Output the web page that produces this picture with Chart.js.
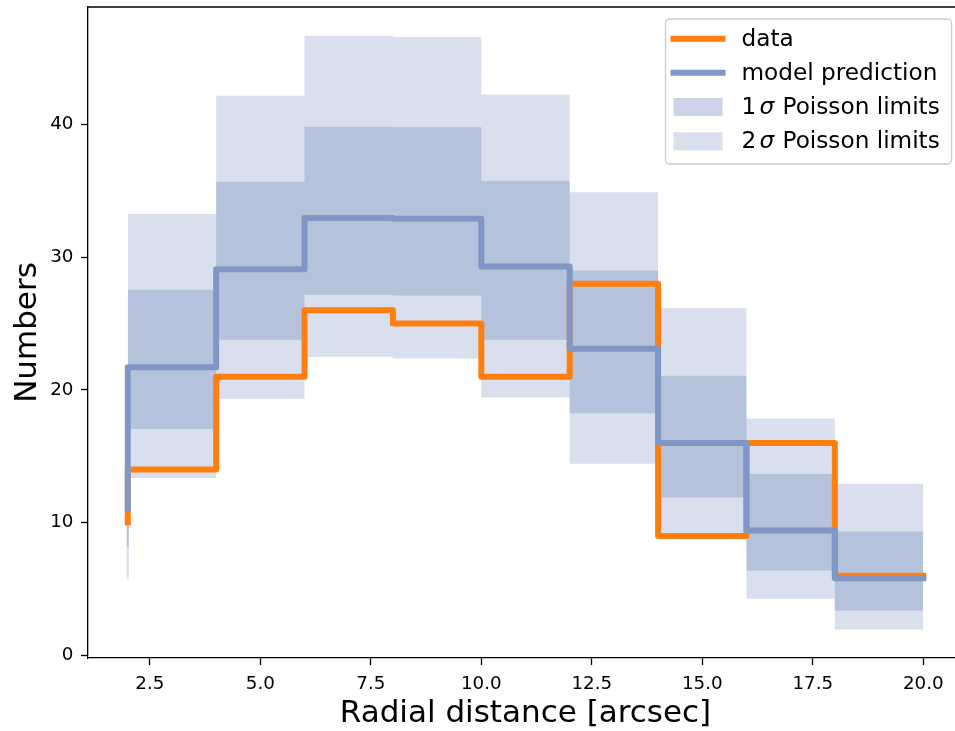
<!DOCTYPE html>
<html><head><meta charset="utf-8">
<script src="https://cdn.jsdelivr.net/npm/chart.js@4.4.0/dist/chart.umd.min.js"></script>
<style>
html,body{margin:0;padding:0;overflow:hidden;background:#fff;width:955px;height:731px}
#wrap{width:970px;height:731px;position:relative}
canvas{display:block}
</style>
</head><body><div id="wrap"><canvas id="c" width="970" height="731"></canvas></div>
<script>
// ---- data (step 'pre': value i applies to the bin ending at binEdges[i]) ----
const binEdges    = [2, 4, 6, 8, 10, 12, 14, 16, 18, 20];
const dataCounts  = [10, 14, 21, 26, 25, 21, 28, 9, 16, 6];
const modelCounts = [11.1, 21.7, 29.1, 32.95, 32.9, 29.3, 23.1, 16.0, 9.4, 5.8];
const lower1Sigma = [8.16, 17.05, 23.77, 27.16, 27.11, 23.77, 18.25, 11.9, 6.4, 3.37];
const upper1Sigma = [14.6, 27.54, 35.69, 39.83, 39.79, 35.75, 28.99, 21.06, 13.66, 9.34];
const lower2Sigma = [5.75, 13.36, 19.33, 22.47, 22.37, 19.43, 14.44, 8.8, 4.27, 1.94];
const upper2Sigma = [18.4, 33.26, 42.17, 46.69, 46.59, 42.25, 34.89, 26.16, 17.85, 12.93];
const xTickValues = [2.5, 5.0, 7.5, 10.0, 12.5, 15.0, 17.5, 20.0];
const yTickValues = [0, 10, 20, 30, 40];
const legendLabels = ['data', 'model prediction', '1 σ Poisson limits', '2 σ Poisson limits'];
const xTitle = 'Radial distance [arcsec]';
const yTitle = 'Numbers';

// ---- styles ----
const FONT = 'DejaVu Sans';
const ORANGE = '#ff7f0e';
const BLUE = '#8096c4';
const BAND1 = 'rgba(128,150,196,0.4)';
const BAND2 = 'rgba(128,150,196,0.3)';

const pts = arr => binEdges.map((x, i) => ({x: x, y: arr[i]}));
const stub = (lo, hi) => [{x: binEdges[0], y: lo[0]}, {x: binEdges[0], y: hi[0]}];

const lineDs = (label, arr, color, order) => ({
  label, data: pts(arr), borderColor: color, backgroundColor: color,
  borderWidth: 6, stepped: 'after', pointRadius: 0, fill: false, order,
  borderCapStyle: 'square', borderJoinStyle: 'round'
});
const edgeDs = (arr, order, fill, bg) => ({
  label: '', data: pts(arr), borderColor: 'rgba(0,0,0,0)', borderWidth: 0,
  stepped: 'after', pointRadius: 0, fill: fill, backgroundColor: bg, order
});

const datasets = [
  lineDs(legendLabels[0], dataCounts, ORANGE, 1),          // 0
  lineDs(legendLabels[1], modelCounts, BLUE, 0),           // 1
  edgeDs(lower1Sigma, 2, {target: 3}, BAND1),              // 2
  edgeDs(upper1Sigma, 2, false, BAND1),                    // 3
  edgeDs(lower2Sigma, 3, {target: 5}, BAND2),              // 4
  edgeDs(upper2Sigma, 3, false, BAND2),                    // 5
  {label: '', data: stub(lower2Sigma, upper2Sigma), borderColor: BAND2, borderWidth: 2,
   pointRadius: 0, fill: false, order: 3},                 // 6
  {label: '', data: stub(lower1Sigma, upper1Sigma), borderColor: BAND1, borderWidth: 2,
   pointRadius: 0, fill: false, order: 2}                  // 7
];

const frameAndLegend = {
  id: 'frameAndLegend',
  afterDraw(chart) {
    const ctx = chart.ctx, a = chart.chartArea;
    ctx.save();
    // top + right spines
    ctx.strokeStyle = '#000'; ctx.lineWidth = 1.3;
    ctx.beginPath();
    ctx.moveTo(a.left - 0.65, a.top); ctx.lineTo(a.right, a.top); ctx.lineTo(a.right, a.bottom);
    ctx.stroke();
    // legend
    const bx = a.right - 297.5, by = a.top + 12, bw = 286, bh = 145;
    ctx.beginPath();
    ctx.roundRect(bx, by, bw, bh, 4);
    ctx.fillStyle = 'rgba(255,255,255,0.8)'; ctx.fill();
    ctx.strokeStyle = '#cccccc'; ctx.lineWidth = 1.3; ctx.stroke();
    const rowY = [38.8, 72.7, 107, 141.3].map(v => v - 7 + a.top);
    const hx = bx + 5, tx = bx + 76;
    const F = '23.2px "' + FONT + '"';
    ctx.font = F;
    ctx.textBaseline = 'alphabetic';
    ctx.fillStyle = '#000';
    // line handles
    [0, 1].forEach((d, i) => {
      ctx.strokeStyle = chart.data.datasets[d].borderColor;
      ctx.lineWidth = 6; ctx.lineCap = 'butt';
      ctx.beginPath(); ctx.moveTo(hx, rowY[i]); ctx.lineTo(hx + 55, rowY[i]); ctx.stroke();
      ctx.fillStyle = '#000';
      ctx.fillText(legendLabels[i], tx, rowY[i] + 7);
    });
    // patch handles
    [[2, BAND1], [3, BAND2]].forEach(([i, col]) => {
      ctx.fillStyle = col;
      ctx.fillRect(hx + 3, rowY[i] - 9, 49, 18);
      const parts = legendLabels[i].split(' ');
      ctx.fillStyle = '#000';
      ctx.font = F;
      ctx.fillText(parts[0], tx, rowY[i] + 7);
      ctx.font = 'italic ' + F;
      ctx.fillText(parts[1], tx + 18, rowY[i] + 7);
      ctx.font = F;
      ctx.fillText(parts.slice(2).join(' '), tx + 41, rowY[i] + 7);
    });
    ctx.restore();
  }
};

Chart.defaults.font.family = FONT;
Chart.defaults.color = '#000';

new Chart(document.getElementById('c'), {
  type: 'line',
  data: {datasets},
  options: {
    responsive: false, animation: false, devicePixelRatio: 1,
    layout: {padding: {top: 7, right: 7, left: 0, bottom: 0}},
    plugins: {legend: {display: false}, tooltip: {enabled: false}},
    elements: {line: {tension: 0}},
    scales: {
      x: {
        type: 'linear', min: 1.1, max: 20.9,
        afterBuildTicks: s => { s.ticks = xTickValues.map(v => ({value: v})); },
        afterFit: s => { s.height = 73; s.paddingLeft = 0; s.paddingRight = 0; },
        ticks: {callback: v => Number(v).toFixed(1), font: {size: 18.3}, color: '#000',
                padding: 8, maxRotation: 0, autoSkip: false},
        grid: {drawOnChartArea: false, drawTicks: true, tickLength: 7, tickColor: '#000', tickWidth: 1.3},
        border: {display: true, color: '#000', width: 1.3},
        title: {display: true, text: xTitle, font: {size: 31}, color: '#000', padding: {top: 0, bottom: -2}}
      },
      y: {
        type: 'linear', min: -0.2, max: 48.85,
        afterBuildTicks: s => { s.ticks = yTickValues.map(v => ({value: v})); },
        afterFit: s => { s.width = 88; s.paddingTop = 0; s.paddingBottom = 0; },
        ticks: {callback: v => String(v), font: {size: 18.3}, color: '#000', padding: 7.5, autoSkip: false},
        grid: {drawOnChartArea: false, drawTicks: true, tickLength: 7, tickColor: '#000', tickWidth: 1.3},
        border: {display: true, color: '#000', width: 1.3},
        title: {display: true, text: yTitle, font: {size: 31}, color: '#000', padding: {top: 9, bottom: 0}}
      }
    }
  },
  plugins: [frameAndLegend]
});
</script>
</body></html>
